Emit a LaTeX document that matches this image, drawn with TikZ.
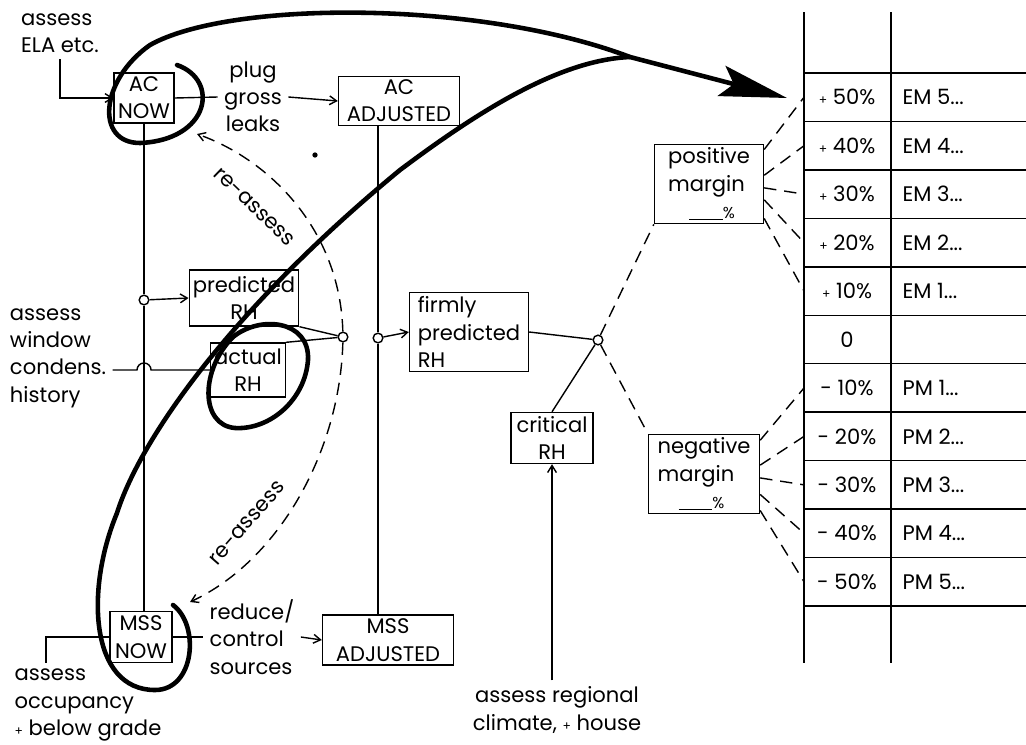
\documentclass[tikz,border=0pt]{standalone}
\usepackage{fontspec}
\setmainfont{Poppins}
\usepackage{tikz}
\usetikzlibrary{arrows.meta, calc}

\newcommand{\lblfont}{\fontsize{12}{15.5}\selectfont}
\newcommand{\pct}{\quad\rule[-1pt]{1.6em}{0.5pt}{\small\%}}

\tikzset{
    box/.style={draw, inner sep=2pt, align=center},
    junc/.style={circle, draw, fill=white, inner sep=0pt, minimum size=5.5pt},
    dashy/.style={dash pattern=on 7pt off 4.5pt},
    loopy/.style={line width=2.6pt, line cap=round},
}

\begin{document}
\begin{tikzpicture}[x=0.02cm, y=-0.02cm, thick, >={Straight Barb[length=4pt, width=5pt]}, font=\lblfont]
    \useasboundingbox (0, 0) rectangle (1026, 744);

    % boxes on the left
    \node [box, minimum width=1.2cm, minimum height=1cm] (acnow) at (144, 98) {AC\\NOW};
    \node [box, minimum width=2.42cm, minimum height=0.96cm] (acadj) at (399, 101) {AC\\ADJUSTED};
    \node [box, minimum width=1.24cm, minimum height=1.02cm] (mssnow) at (141, 637) {MSS\\NOW};
    \node [box, minimum width=2.62cm, minimum height=1cm] (mssadj) at (388, 640) {MSS\\ADJUSTED};
    \node [box, minimum width=2.12cm, minimum height=1.12cm] (pred) at (244, 298) {predicted\\RH};
    \node [box, minimum width=1.46cm, minimum height=1.08cm] (actual) at (248, 370) {actual\\RH};
    \node [box, align=left, minimum width=2.38cm, minimum height=1.58cm] (firm) at (469, 332) {firmly\\predicted\\RH};
    \node [box, minimum width=1.64cm, minimum height=1.02cm] (crit) at (552, 438) {critical\\RH};
    \node [box, align=left, minimum width=2.18cm, minimum height=1.54cm] (posm) at (709, 184) {positive\\margin\\\pct};
    \node [box, align=left, minimum width=2.22cm, minimum height=1.58cm] (negm) at (704, 474) {negative\\margin\\\pct};

    % free texts
    \node [align=left] (elatxt) at (60, 33) {assess\\ELA etc.};
    \node [align=center] (plugtxt) at (253, 97) {plug\\gross\\leaks};
    \node [align=left] (wintxt) at (58, 358) {assess\\window\\condens.\\history};
    \node [align=left] (redtxt) at (252, 637) {reduce/\\control\\sources};
    \node [align=left] (occtxt) at (88, 705) {assess\\occupancy\\{\scriptsize+} below grade};
    \node [align=center] (regtxt) at (557, 710) {assess regional\\climate, {\scriptsize+} house};

    % junctions
    \node [junc] (ja) at (144, 300) {};
    \node [junc] (jb) at (343, 337) {};
    \node [junc] (jc) at (378, 338) {};
    \node [junc] (jd) at (598, 340) {};

    % solid connectors
    \draw [->] (elatxt.south) |- (acnow.west);
    \draw (acnow.east) -- (plugtxt.west);
    \draw [->] (plugtxt.east) -- (acadj.west);
    \draw (acnow.south) -- (ja);
    \draw (ja) -- (acnow.south |- mssnow.north);
    \draw [->] (ja) -- (pred.west);
    \draw (jc |- acadj.south) -- (jc);
    \draw (jc) -- (jc |- mssadj.north);
    \draw [->] (jc) -- (firm.west);
    \draw (pred.south east) -- (jb);
    \draw (actual.north east) -- (jb);
    \draw (wintxt.east |- actual.west) -- (137, 370) arc (180:0:4pt) -- (actual.west);
    \draw (mssnow.east) -- (redtxt.west);
    \draw [->] (redtxt.east) -- (mssadj.west);
    \draw ($(occtxt.north west)+(38, 0)$) |- (mssnow.west);
    \draw (firm.east) -- (jd);
    \draw (crit.north) -- (jd);
    \draw [->] (regtxt.north -| crit.south) -- (crit.south);

    % margins
    \draw [dashy] (jd) -- (posm.south west);
    \draw [dashy] (jd) -- (negm.north west);

    % table
    \draw (804, 12) -- (804, 663);
    \draw (891, 12) -- (891, 663);
    \foreach \k in {0, ..., 11}
        \draw (804, {73 + 48.45*\k}) -- (1026, {73 + 48.45*\k});
    \foreach \p/\n [count=\k] in {50/5, 40/4, 30/3, 20/2, 10/1} {
        \coordinate (row\k) at (804, {48.45*\k + 48.8});
        \node (lv\k) at (847, {48.45*\k + 48.8}) {{\scriptsize+} \p\%};
        \node [anchor=west] (em\k) at (896, {48.45*\k + 48.8}) {EM \n...};
    }
    \node (lv6) at (847, {48.45*6 + 48.8}) {0};
    \foreach \p [count=\j] in {10, 20, 30, 40, 50} {
        \pgfmathtruncatemacro\k{\j + 6}
        \coordinate (row\k) at (804, {48.45*\k + 48.8});
        \node (lv\k) at (847, {48.45*\k + 48.8}) {- \p\%};
        \node [anchor=west] (pm\j) at (896, {48.45*\k + 48.8}) {PM \j...};
    }
    \foreach \a [count=\k] in {32, 9, -4, -16, -32}
        \draw [dashy] (posm.\a) -- (row\k);
    \foreach \a [count=\j] in {31, 9, -4, -20, -33} {
        \pgfmathtruncatemacro\k{\j + 6}
        \draw [dashy] (negm.\a) -- (row\k);
    }

    % re-assess loops
    \coordinate (reup) at (197, 134);
    \coordinate (redn) at (190, 602);
    \draw [dashy, ->] (jb) .. controls (340, 230) and (270, 160) .. (reup);
    \draw [dashy, ->] (jb) .. controls (340, 450) and (280, 560) .. (redn);
    \node [rotate=-44] (reup-lbl) at (254, 207) {re-assess};
    \node [rotate=49] (redn-lbl) at (247, 523) {re-assess};

    % heavy hand-drawn curves
    \coordinate (tip) at (787, 98);
    \coordinate (merge) at (630, 57);
    \draw [loopy, -{Stealth[length=1.35cm, width=0.62cm, inset=0.25cm]}] (177, 65)
        .. controls (220, 80) and (210, 140) .. (140, 143)
        .. controls (95, 143) and (100, 80) .. (150, 45)
        .. controls (230, 0) and (480, 0) .. (merge) -- (tip);
    \draw [loopy] (173, 605) .. controls (200, 625) and (195, 690) .. (155, 690)
        .. controls (90, 690) and (85, 590) .. (117, 513)
        .. controls (140, 440) and (230, 310) .. (400, 170)
        .. controls (480, 110) and (560, 60) .. (merge);
    \draw [loopy] (233, 337) .. controls (260, 315) and (310, 320) .. (308, 360)
        .. controls (305, 400) and (270, 430) .. (235, 428)
        .. controls (200, 425) and (200, 370) .. cycle;
    \fill (315, 155) circle (1.5pt);
\end{tikzpicture}
\end{document}
